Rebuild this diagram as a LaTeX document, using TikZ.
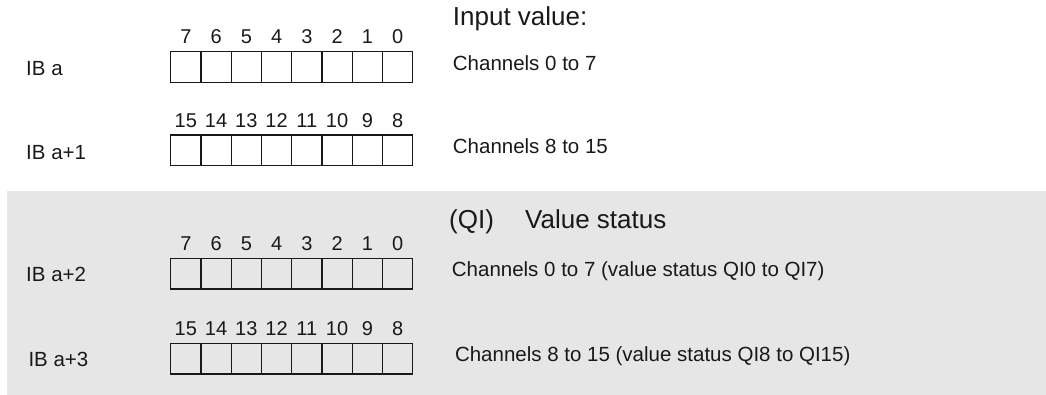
\documentclass[tikz,border=0pt]{standalone}
\usepackage{fontspec}
\setmainfont{Liberation Sans}
\definecolor{bandgray}{RGB}{230,230,230}
\definecolor{inkgray}{RGB}{25,25,25}
\begin{document}
\begin{tikzpicture}
  [x=1pt,y=-1pt,every node/.style={text=inkgray},
   cell/.style={draw=inkgray,line width=1.1pt,minimum width=30.25pt,minimum height=30.6pt,inner sep=0pt},
   bit/.style={inner sep=0pt,anchor=base,font=\fontsize{20}{24}\selectfont},
   txt/.style={inner sep=0pt,anchor=base west,font=\fontsize{20.5}{24}\selectfont},
   head/.style={inner sep=0pt,anchor=base west,font=\fontsize{26}{30}\selectfont}]
  \useasboundingbox (0,0) rectangle (1046,395);
  \fill[bandgray] (7,191) rectangle (1046,395);

  % byte labels
  \node[txt] (ib0) at (26,76)    {IB a};
  \node[txt] (ib1) at (26,159.3) {IB a+1};
  \node[txt] (ib2) at (26,281.7) {IB a+2};
  \node[txt] (ib3) at (28.3,366.7) {IB a+3};

  % bit cells with bit numbers
  \foreach \r/\y/\hi in {0/67/7,1/150.3/15,2/273.7/7,3/358.7/15}
    \foreach \i in {0,...,7} {
      \pgfmathtruncatemacro\bitno{\hi-\i}
      \node[cell] (c\r-\i) at (185.825+\i*30.25,\y) {};
      \node[bit] (b\r-\i) at ([yshift=7.3pt]c\r-\i.north) {\bitno};
    }

  % descriptions
  \node[head] (inval) at (452.7,26) {Input value:};
  \node[txt] (ch0) at (452.7,70.7)  {Channels 0 to 7};
  \node[txt] (ch1) at (452.7,153.3) {Channels 8 to 15};
  \node[head] (qi) at (449,228.3) {(QI)};
  \node[head] (vstat) at (525,228.3) {Value status};
  \node[txt] (ch2) at (451.7,276.7) {Channels 0 to 7 (value status QI0 to QI7)};
  \node[txt] (ch3) at (454.8,361.7) {Channels 8 to 15 (value status QI8 to QI15)};
\end{tikzpicture}
\end{document}
